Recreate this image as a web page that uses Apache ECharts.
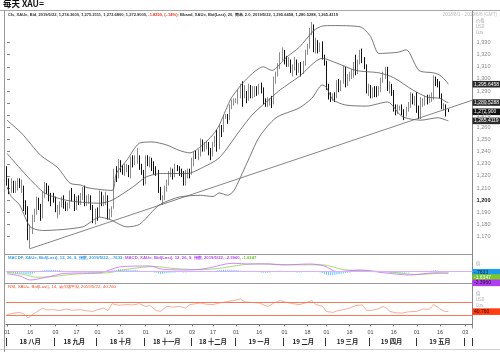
<!DOCTYPE html>
<html>
<head>
<meta charset="utf-8">
<script src="https://cdn.jsdelivr.net/npm/echarts@6/dist/echarts.min.js"></script>
<style>
html, body { margin: 0; padding: 0; background: #fff; }
#main { width: 500px; height: 352px; }
</style>
</head>
<body>
<div id="main"></div>
<script>
// 交易日 (周一到周五) 2018/8/1 - 2019/6/6
const dates = [];
for (let t = Date.UTC(2018, 7, 1); t <= Date.UTC(2019, 5, 6); t += 86400000) {
  const d = new Date(t);
  if (d.getUTCDay() === 0 || d.getUTCDay() === 6) continue;
  dates.push(d.toISOString().slice(0, 10));
}

// [open, close, low, high]
const ohlc = [
  // 2018-08
  [1223,1216,1212,1228],[1216,1210,1205,1218],[1210,1213,1206,1218],[1213,1208,1206,1216],[1208,1211,1206,1216],
  [1211,1213,1208,1218],[1213,1212,1210,1218],[1212,1212,1206,1217],[1212,1194,1191,1212],[1194,1193,1188,1200],
  [1193,1174,1167,1195],[1174,1174,1160,1180],[1174,1184,1172,1188],[1184,1190,1182,1193],[1190,1199,1188,1203],
  [1199,1195,1192,1202],[1195,1186,1183,1197],[1186,1205,1185,1207],[1205,1212,1202,1215],[1212,1210,1205,1214],
  [1210,1203,1199,1212],[1203,1202,1195,1206],[1202,1201,1198,1206],
  // 2018-09
  [1201,1192,1190,1203],[1192,1194,1185,1196],[1194,1197,1188,1199],[1197,1200,1194,1203],[1200,1196,1193,1204],
  [1196,1194,1191,1199],[1194,1195,1191,1198],[1195,1204,1193,1208],[1204,1202,1199,1210],[1202,1194,1191,1205],
  [1194,1200,1192,1203],[1200,1198,1196,1204],[1198,1203,1196,1206],[1203,1207,1200,1211],[1207,1198,1195,1212],
  [1198,1199,1195,1204],[1199,1201,1197,1205],[1201,1195,1192,1204],[1195,1183,1181,1196],[1183,1191,1180,1193],
  // 2018-10
  [1191,1188,1183,1194],[1188,1206,1186,1208],[1206,1198,1195,1207],[1198,1201,1195,1204],[1201,1203,1196,1207],
  [1203,1189,1184,1204],[1189,1191,1184,1193],[1191,1194,1186,1195],[1194,1225,1193,1226],[1225,1222,1215,1228],
  [1222,1232,1218,1234],[1232,1226,1223,1233],[1226,1224,1221,1229],[1224,1227,1220,1230],[1227,1227,1223,1230],
  [1227,1222,1219,1229],[1222,1232,1218,1236],[1232,1231,1227,1237],[1231,1232,1229,1237],[1232,1235,1230,1243],
  [1235,1228,1225,1237],[1228,1223,1221,1230],[1223,1214,1212,1225],
  // 2018-11
  [1214,1233,1213,1237],[1233,1232,1228,1237],[1232,1232,1227,1236],[1232,1227,1224,1235],[1227,1226,1221,1232],
  [1226,1224,1220,1228],[1224,1209,1206,1225],[1209,1201,1200,1211],[1201,1202,1196,1204],[1202,1210,1200,1212],
  [1210,1214,1207,1217],[1214,1222,1212,1224],[1222,1224,1219,1227],[1224,1221,1217,1226],[1221,1228,1219,1230],
  [1228,1226,1224,1229],[1226,1223,1220,1228],[1223,1222,1219,1226],[1222,1214,1212,1224],[1214,1222,1212,1225],
  [1222,1224,1218,1226],[1224,1222,1218,1226],
  // 2018-12
  [1222,1230,1221,1235],[1230,1238,1228,1240],[1238,1237,1234,1241],[1237,1238,1233,1242],[1238,1248,1236,1251],
  [1248,1244,1240,1250],[1244,1244,1240,1248],[1244,1245,1242,1249],[1245,1241,1237,1248],[1241,1238,1233,1243],
  [1238,1246,1236,1248],[1246,1249,1244,1253],[1249,1243,1240,1258],[1243,1258,1242,1262],[1258,1257,1252,1262],
  [1257,1268,1256,1270],[1268,1269,1267,1271],[1269,1267,1263,1271],[1267,1276,1266,1279],[1276,1280,1275,1283],
  [1280,1282,1278,1284],
  // 2019-01
  [1282,1282,1280,1284],[1282,1288,1279,1291],[1288,1294,1284,1296],[1294,1285,1277,1298],[1285,1289,1284,1295],
  [1289,1284,1280,1290],[1284,1293,1282,1296],[1293,1287,1284,1295],[1287,1288,1284,1294],[1288,1291,1285,1294],
  [1291,1288,1286,1294],[1288,1294,1287,1296],[1294,1292,1288,1297],[1292,1282,1279,1293],[1282,1280,1277,1284],
  [1280,1282,1277,1285],[1282,1283,1278,1284],[1283,1280,1276,1286],[1280,1298,1279,1302],[1298,1303,1296,1306],
  [1303,1311,1302,1313],[1311,1319,1308,1322],[1319,1321,1315,1326],
  // 2019-02
  [1321,1317,1312,1324],[1317,1312,1310,1319],[1312,1314,1310,1318],[1314,1307,1305,1316],[1307,1309,1302,1312],
  [1309,1314,1307,1318],[1314,1307,1303,1316],[1307,1311,1305,1313],[1311,1306,1302,1314],[1306,1313,1304,1315],
  [1313,1322,1311,1324],[1322,1327,1320,1329],[1327,1340,1325,1342],[1340,1344,1336,1347],[1344,1324,1322,1345],
  [1324,1329,1321,1334],[1329,1327,1321,1332],[1327,1328,1322,1330],[1328,1318,1316,1331],[1318,1313,1311,1320],
  // 2019-03
  [1313,1292,1291,1315],[1292,1287,1283,1296],[1287,1285,1281,1289],[1285,1286,1282,1288],[1286,1285,1281,1289],
  [1285,1298,1284,1299],[1298,1292,1289,1300],[1292,1297,1290,1299],[1297,1308,1296,1311],[1308,1295,1293,1310],
  [1295,1302,1294,1304],[1302,1303,1298,1306],[1303,1306,1300,1308],[1306,1312,1301,1314],[1312,1305,1303,1320],
  [1305,1313,1304,1316],[1313,1322,1312,1324],[1322,1315,1313,1325],[1315,1310,1308,1318],[1310,1291,1288,1312],
  [1291,1292,1286,1296],
  // 2019-04
  [1292,1287,1284,1295],[1287,1291,1284,1293],[1291,1290,1285,1294],[1290,1289,1285,1294],[1289,1291,1286,1294],
  [1291,1298,1289,1301],[1298,1304,1297,1306],[1304,1307,1300,1310],[1307,1292,1290,1310],[1292,1295,1288,1298],
  [1295,1289,1286,1296],[1289,1275,1273,1291],[1275,1274,1270,1279],[1274,1275,1271,1279],[1275,1276,1274,1278],
  [1276,1272,1270,1279],[1272,1271,1266,1275],[1271,1275,1269,1277],[1275,1277,1273,1281],[1277,1285,1276,1289],
  [1285,1281,1279,1288],[1281,1283,1278,1286],
  // 2019-05
  [1283,1276,1272,1289],[1276,1271,1267,1278],[1271,1279,1267,1285],[1279,1282,1277,1284],[1282,1284,1278,1286],
  [1284,1281,1279,1287],[1281,1284,1280,1287],[1284,1285,1281,1289],[1285,1301,1283,1303],[1301,1297,1294,1302],
  [1297,1296,1293,1300],[1296,1286,1284,1298],[1286,1277,1275,1288],[1277,1277,1274,1280],[1277,1273,1269,1279],
  [1274.36,1272.9,1272.68,1275.21]
];

// 布林带 20, 2.0 : [交易日序号, 值]
const bbUpper = [[0,1266],[7,1255],[16,1237],[24,1227],[30,1214],[35,1212.5],[39,1210],[50,1208],[52,1222],[57,1233],
  [63,1247],[69,1248],[76,1245.5],[82,1241],[87,1239],[92,1244],[98,1254],[101,1262],[104,1274],[107,1285],[114,1300],
  [122,1310],[126,1307],[133,1318],[139,1326],[146,1340],[150,1343.6],[155,1344],[168,1343],[173,1335],[177,1321],
  [186,1322],[190,1324],[196,1307],[203,1305],[206,1303],[209,1298],[210,1295.6458]];
const bbMid = [[0,1238.5],[17,1207],[28,1200],[44,1197.5],[50,1200],[60,1211],[66,1219],[73,1222],[86,1222],[92,1226],
  [101,1235],[111,1258],[117,1271],[126,1285],[130,1291],[139,1302],[150,1317],[157,1313],[166,1307],[177,1305],
  [184,1301],[193,1291],[200,1285],[206,1284],[209,1281],[210,1280.5288]];
const bbLower = [[0,1211],[2,1203],[6,1196],[11,1178],[17,1175],[36,1178],[44,1186],[49,1184],[57,1178],[63,1180],
  [71,1194],[74,1197.6],[82,1202.6],[92,1204],[98,1203],[101,1206],[105,1204],[108,1208],[114,1230],[120,1252],
  [128,1268],[139,1276],[145,1284],[150,1295],[152,1293],[155,1283],[161,1278.5],[171,1277.6],[181,1281],[188,1269],
  [197,1266],[205,1268],[209,1266],[210,1265.4119]];
const trendLine = [[11,1160],[221.5,1282.5]];

// MACD 12,26,9
const macdLine = [[0,-3],[6,-6],[11,-12],[18,-8.5],[28,-2.3],[44,-1.5],[54,7.2],[68,8.3],[74,3.5],[87,2.5],[96,5.4],
  [107,12.2],[116,11.2],[125,11.2],[131,9.7],[144,11.2],[151,8.3],[157,0],[168,2.5],[179,-1.5],[192,-4.8],[204,-1.5],
  [210,-2.396]];
const macdSignal = [[0,-1],[8,-4],[14,-8],[22,-7],[32,-3.5],[48,-1.5],[58,4],[70,7.5],[80,4.5],[92,3],[100,4.5],
  [112,10],[120,11.5],[130,10.5],[140,10],[150,10],[160,3],[170,1.5],[180,0],[195,-4],[205,-2.5],[210,-1.6347]];
const macdHist = [
  -1,-1.5,-1.5,-2,-2,-2,-2.5,-2.5,
  -3,-3.5,-4,-4.5,-3,-1.5,-0.5,0.5,
  1.5,2,2.5,3,3,3,2.5,2.5,2,2,
  1.5,1.5,1,1,0.5,0.5,0.5,0.5,0,0,
  0,-0.5,-0.5,-1,-1,-1,-0.5,-0.5,0,0,
  0,-0.5,-0.5,0,2,2.5,3,3.5,3.5,3.5,
  3,3,3,2.5,2.5,2.5,2,1.5,1,1,
  1,0.5,0.5,0,-1,-1.5,-2.5,-3,-3,-2.5,
  -2,-1.5,-1.5,-1,-1,-0.5,-0.5,-0.5,-1,-1,
  -0.5,0,0.5,1,1,1.5,1.5,1.5,1,1,
  1,1,1,1.5,2,2.5,2.5,3,3,3,
  3,3,3,2.5,2,1.5,1,0.5,0.5,0,
  0,0,-0.5,-0.5,-0.5,-1,-1.5,-1.5,-1.5,-1,
  0,0.5,1,1.5,1.5,1.5,1,0.5,0,0,
  -0.5,-0.5,-1,-1,-1,-0.5,0,0.5,1,1,
  0.5,0,-0.5,-1,-2,-3.5,-4.5,-5,-5,-5,
  -4.5,-4,-3.5,-3,-2.5,-2,-1.5,-1,-0.5,0,
  0.5,0.5,0.5,1,0.5,0,-0.5,-0.5,-0.5,-0.5,
  -0.5,-0.5,0,0,0,-0.5,-1,-1.5,-2,-2,
  -2,-2,-1.5,-1.5,-1,-1,-0.5,-0.5,0,0,
  0.5,0.5,0.5,1,1,1,1.5,2,2,1.5,
  1,0.5,0,-0.5,-0.7633
];

// RSI 14
const rsiLine = [[0,31],[3,36],[6,38],[8,33],[10,20.5],[12,31],[14,40],[17,52],[19,46],[22,47],[25,44],[28,49],[31,45],
  [35,47],[38,43],[41,41.5],[43,47],[46,52],[48,44],[50,66],[53,61],[57,63],[60,62],[63,66],[66,57],[68,60],[71,44],
  [73,41.5],[76,57],[79,55],[82,57],[85,52],[87,63],[92,68],[95,64],[98,63],[101,68],[105,73],[108,76],[111,81],
  [113,72],[116,70],[120,68],[124,57],[127,68],[130,76],[133,70],[136,66],[139,63],[142,68],[145,76],[147,63],[150,58],
  [152,41.5],[155,38],[157,43],[160,47],[163,52],[166,60],[169,62],[171,45],[173,44.6],[176,48],[179,57],[181,50],
  [182,41.5],[185,37],[188,36],[191,40],[195,41.5],[198,49],[201,48],[203,63],[205,55],[206,49],[208,42],[210,40.76]];
const rsiLevels = [70, 30];

// 刻度
const priceTicks = [1170,1180,1190,1200,1210,1220,1230,1240,1250,1260,1270,1280,1290,1300,1310,1320,1330];
const dayTicks = ['2018-08-01','2018-08-16','2018-09-03','2018-09-17','2018-10-01','2018-10-16','2018-11-01',
  '2018-11-16','2018-12-03','2018-12-17','2019-01-01','2019-01-16','2019-02-01','2019-02-18','2019-03-01',
  '2019-03-18','2019-04-01','2019-04-16','2019-05-01','2019-05-16','2019-06-03'];
const monthNames = {'2018-08':'18 八月','2018-09':'18 九月','2018-10':'18 十月','2018-11':'18 十一月',
  '2018-12':'18 十二月','2019-01':'19 一月','2019-02':'19 二月','2019-03':'19 三月','2019-04':'19 四月','2019-05':'19 五月'};

const lastClose = 1272.9;
const lastMacd = [-0.7633, -1.6347, -2.396];
const lastRsi = 40.76;

// 月份起点与月中位置
const monthStart = new Set(), monthMid = {};
(function () {
  const first = {}, last = {};
  dates.forEach((d, i) => {
    const m = d.slice(0, 7);
    if (!(m in first)) { first[m] = i; monthStart.add(i); }
    last[m] = i;
  });
  Object.keys(first).forEach(m => { if (monthNames[m]) monthMid[Math.floor((first[m] + last[m]) / 2)] = monthNames[m]; });
})();

const NUM = 'Liberation Sans';
const CJK = 'Noto Sans CJK SC';
const fmt = v => v.toLocaleString('en-US');
const N = dates.length;

const grids = [
  { left: 6, right: 27.5, top: 12, height: 242 },
  { left: 6, right: 27.5, top: 254, height: 29 },
  { left: 6, right: 27.5, top: 283, height: 45 }
];
const hiddenCat = g => ({ type: 'category', gridIndex: g, data: dates, boundaryGap: true, show: false });
const hiddenVal = g => ({ type: 'value', gridIndex: g, min: -0.5, max: N - 0.5, show: false });
const thin = (name, data, color, xi, yi, extra) => Object.assign({
  name, type: 'line', data, xAxisIndex: xi, yAxisIndex: yi, symbol: 'none', silent: true,
  lineStyle: { color, width: 0.8 }
}, extra || {});

const chart = echarts.init(document.getElementById('main'));
chart.setOption({
  animation: false,
  backgroundColor: '#fff',
  grid: grids,
  title: [
    { text: '每天 XAU=', left: 3, top: 0, padding: 0,
      textStyle: { fontFamily: CJK, fontSize: 8.5, fontWeight: 'bold', color: '#111' } },
    { text: '2018/8/1 - 2019/6/6 (GMT)', right: 3, top: 12.5, padding: 0,
      textStyle: { fontFamily: NUM, fontSize: 4.6, fontWeight: 'normal', color: '#bbb' } },
    { text: '{a|Cls, XAU=, Bid, 2019/5/22, 1,274.3600, 1,275.2111, 1,272.6800, 1,272.9000, }{r|-1.8250, (-.14%);}{a| Bband, XAU=, Bid(Last), 20, 简单, 2.0, 2019/5/22, 1,295.6458, 1,280.5288, 1,265.4119}',
      left: 8, top: 13, padding: 0,
      textStyle: { rich: {
        a: { fontFamily: NUM, fontSize: 4.05, color: '#333' },
        r: { fontFamily: NUM, fontSize: 4.05, color: '#e8321e' } } } },
    { text: '{b|MACDF, XAU=, Bid(Last), 12, 26, 9, 指数, 2019/5/22, -.7633; }{p|MACD, XAU=, Bid(Last), 12, 26, 9, 指数, 2019/5/22, -2.3960, }{g|-1.6347}',
      left: 8, top: 256, padding: 0,
      textStyle: { rich: {
        b: { fontFamily: NUM, fontSize: 4.25, color: '#3aa0ea' },
        p: { fontFamily: NUM, fontSize: 4.25, color: '#b54cf0' },
        g: { fontFamily: NUM, fontSize: 4.25, color: '#6cc230' } } } },
    { text: 'RSI, XAU=, Bid(Last), 14, 威尔德平滑, 2019/5/22, 40.760', left: 8, top: 285, padding: 0,
      textStyle: { fontFamily: NUM, fontSize: 4.35, fontWeight: 'normal', color: '#ef4d28' } },
    { text: '价格\nUSD\nOzs', left: 476, top: 18, padding: 0,
      textStyle: { fontFamily: CJK, fontSize: 4.3, lineHeight: 5.6, fontWeight: 'normal', color: '#aaa' } },
    { text: '值', left: 476, top: 261, padding: 0,
      textStyle: { fontFamily: CJK, fontSize: 4.3, fontWeight: 'normal', color: '#aaa' } },
    { text: '值\nUSD\nOzs', left: 476, top: 291, padding: 0,
      textStyle: { fontFamily: CJK, fontSize: 4.3, lineHeight: 5.6, fontWeight: 'normal', color: '#aaa' } }
  ],
  xAxis: [
    hiddenCat(0), hiddenVal(0),
    hiddenCat(1), hiddenVal(1),
    {
      type: 'category', gridIndex: 2, data: dates, boundaryGap: true, position: 'bottom',
      axisLine: { show: true, lineStyle: { color: '#777', width: 1 } },
      axisTick: { show: true, alignWithLabel: true, length: 2, lineStyle: { color: '#777' },
        interval: (i, v) => dayTicks.includes(v) },
      axisLabel: { show: true, fontFamily: NUM, fontSize: 5.4, color: '#444', margin: 2.5,
        interval: (i, v) => dayTicks.includes(v), formatter: v => v.slice(8) },
      splitLine: { show: false }
    },
    hiddenVal(2),
    {
      type: 'category', gridIndex: 2, data: dates, boundaryGap: true, position: 'bottom', offset: 10,
      axisLine: { show: false },
      axisTick: { show: true, alignWithLabel: false, length: 8, lineStyle: { color: '#333', width: 1 },
        interval: i => monthStart.has(i) },
      axisLabel: { show: true, fontFamily: CJK, fontSize: 6.3, fontWeight: 'bold', color: '#222', margin: 0.5,
        interval: i => i in monthMid, formatter: (v, i) => monthMid[i] || '' },
      splitLine: { show: false }
    }
  ],
  yAxis: [
    {
      type: 'value', gridIndex: 0, position: 'right', min: 1155.6, max: 1355.2,
      axisLine: { show: false },
      axisTick: { show: true, length: 3, customValues: priceTicks, lineStyle: { color: '#888' } },
      axisLabel: { customValues: priceTicks, fontFamily: NUM, fontSize: 5.6, color: '#888', margin: 4,
        formatter: v => v === 1200 ? '{b|1,200}' : fmt(v),
        rich: { b: { fontFamily: NUM, fontSize: 5.6, fontWeight: 'bold', color: '#222' } } },
      splitLine: { show: false }
    },
    { type: 'value', gridIndex: 1, min: -16.4, max: 25.7, show: false },
    { type: 'value', gridIndex: 2, min: -11.3, max: 131.6, show: false }
  ],
  series: [
    { type: 'candlestick', xAxisIndex: 0, yAxisIndex: 0, data: ohlc, barWidth: 1, silent: true,
      itemStyle: { color: '#8c8c8c', color0: '#111', borderColor: '#8c8c8c', borderColor0: '#111', borderWidth: 1 } },
    thin('upper', bbUpper, '#555', 1, 0, { smooth: 0.25 }),
    thin('middle', bbMid, '#555', 1, 0, { smooth: 0.25 }),
    thin('lower', bbLower, '#555', 1, 0, { smooth: 0.25 }),
    thin('trend', trendLine, '#666', 1, 0),
    { type: 'bar', xAxisIndex: 2, yAxisIndex: 1, data: macdHist, barWidth: 1, silent: true,
      itemStyle: { color: '#62c4ff' } },
    thin('signal', macdSignal, '#93d24e', 3, 1, { smooth: 0.3 }),
    thin('macd', macdLine, '#c46cff', 3, 1, { smooth: 0.3,
      markLine: { silent: true, symbol: 'none', label: { show: false },
        lineStyle: { color: '#d9b0ff', width: 1, type: 'solid' }, data: [{ yAxis: 0 }] } }),
    thin('rsi', rsiLine, '#f39a80', 5, 2, {
      markLine: { silent: true, symbol: 'none', label: { show: false },
        lineStyle: { color: '#f47a5a', width: 1, type: 'solid' }, data: rsiLevels.map(v => ({ yAxis: v })) } })
  ]
});

// 框线与右侧数值标签
const yPx = (axis, v) => chart.convertToPixel({ yAxisIndex: axis }, v);
const gfx = [];
const hline = (y, x1, x2, c) => gfx.push({ type: 'line', silent: true,
  shape: { x1, y1: y, x2, y2: y }, style: { stroke: c, lineWidth: 1 } });
const vline = (x, y1, y2, c) => gfx.push({ type: 'line', silent: true,
  shape: { x1: x, y1, x2: x, y2 }, style: { stroke: c, lineWidth: 1 } });
hline(10.5, 0, 500, '#a8a8a8');
hline(254.5, 4.5, 472.5, '#999');
hline(283.5, 4.5, 472.5, '#999');
hline(349.5, 0, 500, '#d0d0d0');
vline(4.5, 10.5, 352, '#999');
vline(472.5, 10.5, 328.5, '#888');

const box = (y, text, bg, fg) => {
  gfx.push({ type: 'rect', silent: true, shape: { x: 472.5, y: y - 3.3, width: 27.5, height: 6.6 }, style: { fill: bg } });
  gfx.push({ type: 'text', silent: true, style: { x: 474, y, text, fill: fg, fontSize: 5, fontFamily: NUM,
    verticalAlign: 'middle', align: 'left' } });
};
box(yPx(0, bbUpper[bbUpper.length - 1][1]), '1,295.6458', '#2a2a2a', '#fff');
box(yPx(0, bbMid[bbMid.length - 1][1]), '1,280.5288', '#2a2a2a', '#fff');
box(yPx(0, lastClose), '1,272.900', '#111', '#fff');
box(yPx(0, bbLower[bbLower.length - 1][1]), '1,265.4119', '#2a2a2a', '#fff');

let my = yPx(1, lastMacd[0]);
box(my, '-.7633', '#1e9be9', '#102030');
my = Math.max(yPx(1, lastMacd[1]), my + 5.3);
box(my, '-1.6347', '#7cc72a', '#f4ffe8');
my = Math.max(yPx(1, lastMacd[2]), my + 5.3);
box(my, '-2.3960', '#b03ef0', '#200030');
box(yPx(2, lastRsi), '40.760', '#ff3d12', '#301000');

chart.setOption({ graphic: gfx });
</script>
</body>
</html>
